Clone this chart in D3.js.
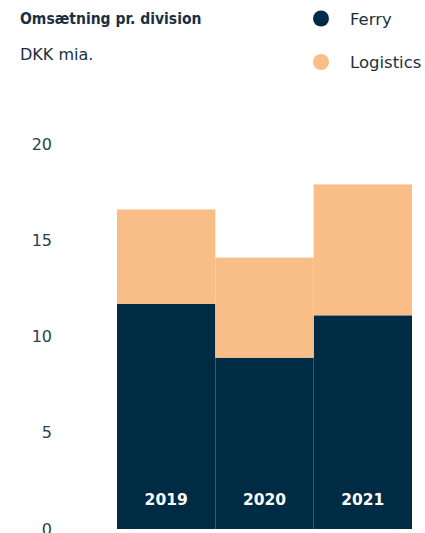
<!DOCTYPE html>
<html>
<head>
<meta charset="utf-8">
<script src="https://cdn.jsdelivr.net/npm/d3@7"></script>
<style>
  body { margin: 0; background: #fff; }
  svg text { font-family: "DejaVu Sans", sans-serif; }
</style>
</head>
<body>
<script>
// data
var years = ["2019", "2020", "2021"];
var ferry = [11.7, 8.9, 11.1];
var logistics = [4.9, 5.2, 6.8];
var yTicks = [0, 5, 10, 15, 20];
var seriesNames = ["Ferry", "Logistics"];
var colors = ["#002b45", "#f9be87"];

var width = 425, height = 533;

var svg = d3.select("body").append("svg")
    .attr("width", width)
    .attr("height", height);

var scaleX = d3.scaleBand()
    .domain(years)
    .range([117, 412])
    .padding(0);
var scaleY = d3.scaleLinear()
    .domain([0, 20])
    .range([529, 144]);

var rows = years.map(function(y, i) {
    return { year: y, Ferry: ferry[i], Logistics: logistics[i] };
});
var stacked = d3.stack().keys(seriesNames)(rows);

// bars
svg.append("g").selectAll("g")
    .data(stacked)
    .enter().append("g")
    .attr("fill", function(d, i) { return colors[i]; })
    .selectAll("rect")
    .data(function(d) { return d; })
    .enter().append("rect")
    .attr("x", function(d) { return scaleX(d.data.year); })
    .attr("width", scaleX.bandwidth())
    .attr("y", function(d) { return scaleY(d[1]); })
    .attr("height", function(d) { return scaleY(d[0]) - scaleY(d[1]); });

// year labels inside bars
svg.append("g").selectAll("text")
    .data(years)
    .enter().append("text")
    .attr("x", function(d) { return scaleX(d) + scaleX.bandwidth() / 2; })
    .attr("y", 505)
    .attr("text-anchor", "middle")
    .attr("fill", "#fff")
    .style("font-size", "15.5px")
    .style("font-weight", "bold")
    .text(function(d) { return d; });

// y axis
var yAxis = svg.append("g")
    .attr("transform", "translate(52,0)")
    .call(d3.axisLeft(scaleY).tickValues(yTicks).tickSize(0).tickPadding(0));
yAxis.select(".domain").remove();
yAxis.selectAll("text")
    .attr("fill", "#2b4150")
    .style("font-family", "DejaVu Sans, sans-serif")
    .style("font-size", "16px");

// title
svg.append("text")
    .attr("x", 20)
    .attr("y", 24)
    .attr("fill", "#1c2f3f")
    .style("font-family", "'DejaVu Sans Condensed', 'DejaVu Sans', sans-serif")
    .style("font-size", "15.5px")
    .style("font-weight", "bold")
    .text("Omsætning pr. division");
svg.append("text")
    .attr("x", 20)
    .attr("y", 60)
    .attr("fill", "#1c2f3f")
    .style("font-size", "16px")
    .text("DKK mia.");

// legend
var legend = svg.append("g").selectAll("g")
    .data(seriesNames)
    .enter().append("g")
    .attr("transform", function(d, i) { return "translate(321," + (18.5 + i * 43.5) + ")"; });
legend.append("circle")
    .attr("r", 8)
    .attr("fill", function(d, i) { return colors[i]; });
legend.append("text")
    .attr("x", 29)
    .attr("y", 6)
    .attr("fill", "#1c2f3f")
    .style("font-size", "16.5px")
    .text(function(d) { return d; });
</script>
</body>
</html>
